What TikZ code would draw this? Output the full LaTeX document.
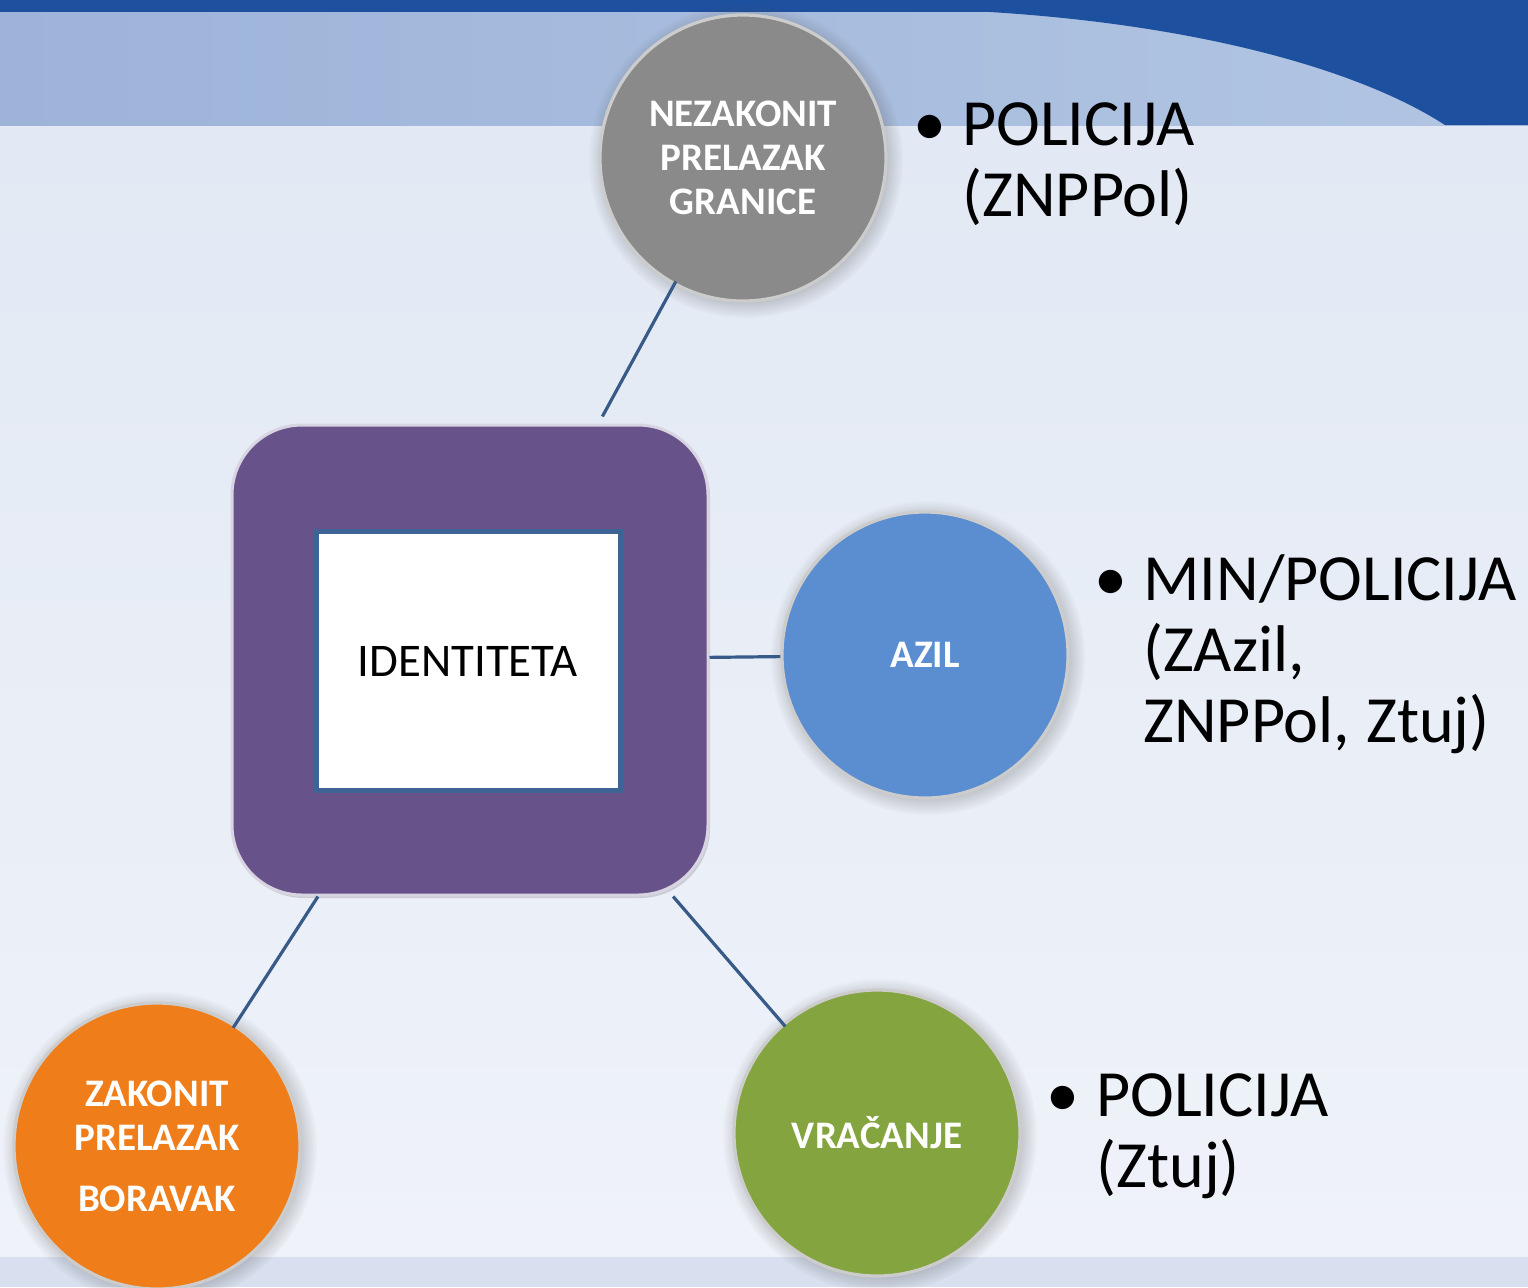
\documentclass[tikz,border=0pt]{standalone}
\usepackage{fontspec}
\setmainfont{Carlito}
\usepackage{tikz}
\usetikzlibrary{calc,shadows}
\frenchspacing

\definecolor{bandtop}{HTML}{1E50A0}
\definecolor{bandleft}{HTML}{9DB3D8}
\definecolor{bandright}{HTML}{B2C5E3}
\definecolor{backtop}{HTML}{E2E9F4}
\definecolor{backbot}{HTML}{EFF2F9}
\definecolor{backstrip}{HTML}{D8E0EF}
\definecolor{grayball}{HTML}{8A8A8A}
\definecolor{blueball}{HTML}{5A8ED0}
\definecolor{greenball}{HTML}{84A43F}
\definecolor{orangeball}{HTML}{EF7D1A}
\definecolor{purplebox}{HTML}{67528A}
\definecolor{innerframe}{HTML}{3D6494}
\definecolor{linkcol}{HTML}{375A88}

\tikzset{
  ball/.style={circle, minimum size=143pt, inner sep=0pt, draw=white!80!black, line width=1.6pt,
    text=white, align=center, font=\bfseries\fontsize{19.5}{22}\selectfont,
    circular drop shadow={shadow xshift=1.2pt, shadow yshift=-1.2pt, opacity=0.35, fill=black!70}},
  link/.style={draw=linkcol, line width=1.6pt},
  info/.style={anchor=base west, inner sep=0pt, align=left, text width=200pt,
    font=\fontsize{33}{35.5}\selectfont},
  dot/.style={anchor=base, inner sep=0pt, font=\fontsize{33}{35.5}\selectfont}
}

\begin{document}
\begin{tikzpicture}[x=0.5pt,y=-0.5pt]
		\useasboundingbox (0,0) rectangle (1528,1287);
		%background
		\shade[top color=backtop, bottom color=backbot] (0,120) rectangle (1528,1257);
		\fill[backstrip] (0,1257) rectangle (1528,1287);
		\shade[left color=bandleft, right color=bandright] (0,0) rectangle (1528,125);
		\fill[bandtop] (0,0) rectangle (1528,12);
		\fill[bandtop] (990,12) .. controls (1200,25) and (1360,70) .. (1445,125) -- (1528,125) -- (1528,0) -- (990,0) -- cycle;
		
		%middle box
		\node[draw=white!75!purplebox, line width=1.5pt, fill=purplebox, rounded corners=35pt,
			minimum width=238pt, minimum height=235pt,
			drop shadow={shadow xshift=1pt, shadow yshift=-1.5pt, opacity=0.3}] (ident) at (470,660) {};
		\node[draw=innerframe, line width=2.5pt, fill=white, minimum width=152pt, minimum height=129.5pt,
			font=\fontsize{23.4}{26}\selectfont] (identtxt) at (468,661) {IDENTITETA};
		
		%circles
		\node[ball, fill=grayball] (nez) at (743,158) {NEZAKONIT\\PRELAZAK\\GRANICE};
		\node[ball, fill=blueball] (azil) at (925,655) {AZIL};
		\node[ball, fill=greenball] (vrac) at (877,1133) {VRAČANJE};
		\node[ball, fill=orangeball] (zak) at (157,1146) {ZAKONIT\\PRELAZAK\\[8.5pt]BORAVAK};
		
		%links
		\draw[link, shorten <=-2pt, shorten >=4pt] (nez) -- (ident);
		\draw[link] (ident) -- (azil);
		\draw[link, shorten >=-2pt] (ident) -- (vrac);
		\draw[link, shorten >=-2pt] (ident) -- (zak);
		
		%bullets
		\node[dot] (nezdot) at (930,145) {\textbullet};
		\node[info] (nezinfo) at (962,145) {POLICIJA\\(ZNPPol)};
		\node[dot] (azildot) at (1111,600) {\textbullet};
		\node[info] (azilinfo) at (1143,600) {MIN/POLICIJA\\(ZAzil,\\ZNPPol,\hspace{8pt}Ztuj)};
		\node[dot] (vracdot) at (1063,1116) {\textbullet};
		\node[info] (vracinfo) at (1096,1116) {POLICIJA\\(Ztuj)};
\end{tikzpicture}
\end{document}
